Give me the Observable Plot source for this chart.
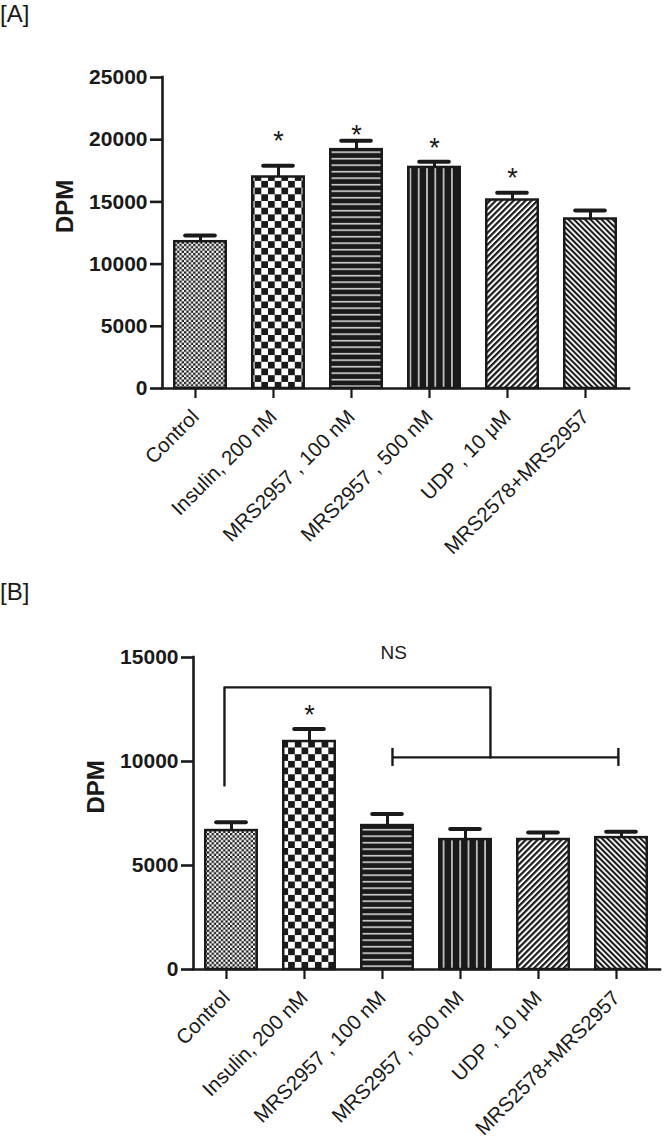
<!DOCTYPE html>
<html>
<head>
<meta charset="utf-8">
<script src="https://cdn.jsdelivr.net/npm/d3@7"></script>
<script src="https://cdn.jsdelivr.net/npm/@observablehq/plot@0.6"></script>
<style>
  html, body { margin: 0; padding: 0; background: #fff; }
  #wrap { position: relative; width: 664px; height: 1141px; font-family: "Liberation Sans", Arial, Helvetica, sans-serif; color: #1a1a1a; }
  .panel { position: absolute; left: 0; }
  .tag { position: absolute; left: 0; font-size: 24px; line-height: 24px; }
</style>
</head>
<body>
<svg width="0" height="0" style="position:absolute">
  <defs>
    <pattern id="pat-fine" patternUnits="userSpaceOnUse" width="4.6" height="4.6">
      <rect width="4.6" height="4.6" fill="#fff"/>
      <rect width="2.3" height="2.3" fill="#1a1a1a"/>
      <rect x="2.3" y="2.3" width="2.3" height="2.3" fill="#1a1a1a"/>
    </pattern>
    <pattern id="pat-check" patternUnits="userSpaceOnUse" width="13.4" height="13.4">
      <rect width="13.4" height="13.4" fill="#fff"/>
      <rect width="6.7" height="6.7" fill="#1a1a1a"/>
      <rect x="6.7" y="6.7" width="6.7" height="6.7" fill="#1a1a1a"/>
    </pattern>
    <pattern id="pat-hline" patternUnits="userSpaceOnUse" width="10" height="6.5">
      <rect width="10" height="6.5" fill="#1a1a1a"/>
      <rect y="2" width="10" height="1.4" fill="#eee"/>
    </pattern>
    <pattern id="pat-vline" patternUnits="userSpaceOnUse" width="8.3" height="10">
      <rect width="8.3" height="10" fill="#1a1a1a"/>
      <rect x="3" width="1.4" height="10" fill="#eee"/>
    </pattern>
    <pattern id="pat-diag" patternUnits="userSpaceOnUse" width="4.2" height="10" patternTransform="rotate(45)">
      <rect width="4.2" height="10" fill="#fff"/>
      <rect width="2.2" height="10" fill="#1a1a1a"/>
    </pattern>
    <pattern id="pat-anti" patternUnits="userSpaceOnUse" width="3.9" height="10" patternTransform="rotate(-45)">
      <rect width="3.9" height="10" fill="#fff"/>
      <rect width="2.1" height="10" fill="#1a1a1a"/>
    </pattern>
  </defs>
</svg>
<div id="wrap">
  <div class="tag" style="top:2px">[A]</div>
  <div class="tag" style="top:580px">[B]</div>
  <div class="panel" id="panelA" style="top:0"></div>
  <div class="panel" id="panelB" style="top:580px"></div>
</div>
<script>
// ---------- data ----------
const categories = ["Control", "Insulin, 200 nM", "MRS2957 , 100 nM", "MRS2957 , 500 nM", "UDP , 10 \u03bcM", "MRS2578+MRS2957"];
const patterns = ["pat-fine", "pat-check", "pat-hline", "pat-vline", "pat-diag", "pat-anti"];

const valuesA = [11800, 17000, 19200, 17770, 15150, 13625];
const semA    = [500, 900, 720, 450, 580, 685];
const starsA  = [null, 20420, 20945, 19875, 17460, null];
const ticksA  = [0, 5000, 10000, 15000, 20000, 25000];

const valuesB = [6680, 10960, 6920, 6245, 6250, 6340];
const semB    = [405, 600, 550, 505, 340, 280];
const starsB  = [null, 12555, null, null, null, null];
const ticksB  = [0, 5000, 10000, 15000];

// NS comparison bracket (x in category index units, y in DPM)
const bracketOuterX = [-0.09, -0.09, 3.32, 3.32];
const bracketOuterY = [8850, 13565, 13565, 10197];
const bracketInnerX = [2.064, 4.96];
const bracketInnerY = 10197;
const bracketCapY   = [9764, 10630];
const nsLabel = {x: 2.08, y: 15200, text: "NS"};

const yLabel = "DPM";
const FONT = "'Liberation Sans', Arial, Helvetica, sans-serif";

function rows(values, sem, stars) {
  return categories.map((c, i) => ({
    i, cat: c, value: values[i], top: values[i] + sem[i], star: stars[i], pat: `url(#${patterns[i]})`
  }));
}

function panel(values, sem, stars, ticks, opts) {
  const data = rows(values, sem, stars);
  const yMax = ticks[ticks.length - 1];
  const halfBar = 0.33, halfCap = 0.19;
  const marks = [
    Plot.rectY(data, {x1: d => d.i - halfBar, x2: d => d.i + halfBar, y1: 0, y2: "value",
      fill: "pat", stroke: "#1a1a1a", strokeWidth: 2.5}),
    Plot.ruleX(data, {x: "i", y1: "value", y2: "top", stroke: "#1a1a1a", strokeWidth: 3}),
    Plot.ruleY(data, {y: "top", x1: d => d.i - halfCap, x2: d => d.i + halfCap, stroke: "#1a1a1a", strokeWidth: 4, strokeLinecap: "round"}),
    Plot.text(data.filter(d => d.star != null), {x: "i", y: "star", text: () => "*", fontSize: 27, dy: 7, fill: "#1a1a1a"}),
    Plot.ruleX([-0.487], {y1: 0, y2: yMax, stroke: "#1a1a1a", strokeWidth: 2.6, strokeLinecap: "square"}),
    Plot.ruleY([0], {x1: -0.487, x2: 5.5, stroke: "#1a1a1a", strokeWidth: 2.6, strokeLinecap: "square"}),
    Plot.axisY({ticks, tickFormat: d => String(d), tickSize: 12, tickPadding: 3, fontSize: 21, fontWeight: "bold",
      strokeWidth: 2.6, label: null, anchor: "left"}),
    Plot.axisX({ticks: d3.range(categories.length), tickFormat: i => categories[i], tickRotate: -45,
      tickSize: 10, tickPadding: 15, dx: -5, fontSize: 20.5, strokeWidth: 2.2, label: null, anchor: "bottom"}),
    Plot.text([yLabel], {text: d => d, frameAnchor: "left", rotate: -90, dx: -90, lineAnchor: "bottom",
      fontSize: 24, fontWeight: "bold", fill: "#1a1a1a"})
  ];
  if (opts.bracket) {
    const outer = bracketOuterX.map((x, k) => ({x, y: bracketOuterY[k]}));
    marks.push(
      Plot.line(outer, {x: "x", y: "y", stroke: "#1a1a1a", strokeWidth: 2.4, curve: "linear"}),
      Plot.ruleY([bracketInnerY], {x1: bracketInnerX[0], x2: bracketInnerX[1], stroke: "#1a1a1a", strokeWidth: 2.4}),
      Plot.ruleX(bracketInnerX, {y1: bracketCapY[0], y2: bracketCapY[1], stroke: "#1a1a1a", strokeWidth: 2.4}),
      Plot.text([nsLabel], {x: "x", y: "y", text: "text", fontSize: 19, fill: "#1a1a1a"})
    );
  }
  return Plot.plot({
    width: 664,
    height: opts.height,
    marginLeft: opts.marginLeft,
    marginRight: opts.marginRight,
    marginTop: opts.marginTop,
    marginBottom: opts.marginBottom,
    x: {type: "linear", domain: [-0.487, 5.5], axis: null},
    y: {domain: [0, yMax], axis: null},
    color: {type: "identity"},
    style: {fontFamily: FONT, color: "#1a1a1a", background: "transparent", overflow: "visible"},
    marks
  });
}

document.getElementById("panelA").append(
  panel(valuesA, semA, starsA, ticksA, {height: 580, marginLeft: 162, marginRight: 35, marginTop: 77, marginBottom: 192})
);
document.getElementById("panelB").append(
  panel(valuesB, semB, starsB, ticksB, {height: 561, marginLeft: 193, marginRight: 4, marginTop: 77, marginBottom: 172, bracket: true})
);
</script>
</body>
</html>
